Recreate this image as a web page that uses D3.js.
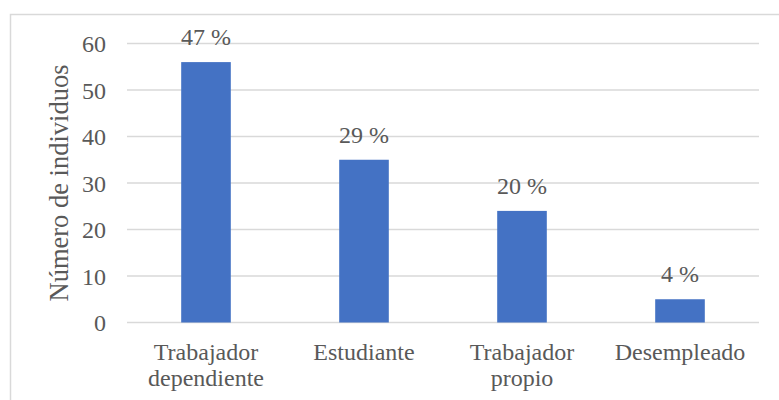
<!DOCTYPE html>
<html lang="es">
<head>
<meta charset="UTF-8">
<title>Número de individuos</title>
<script src="https://cdn.jsdelivr.net/npm/d3@7"></script>
<style>
  body { margin: 0; background: #fff; }
</style>
</head>
<body>
<script>
// data
const categories = [["Trabajador", "dependiente"], ["Estudiante"], ["Trabajador", "propio"], ["Desempleado"]];
const counts = [56, 35, 24, 5];
const percentLabels = ["47 %", "29 %", "20 %", "4 %"];
const yTicks = [0, 10, 20, 30, 40, 50, 60];

const width = 779, height = 400;
const plot = { left: 127, right: 759, top: 43.5, bottom: 322.5 };
const fontFamily = "'Liberation Serif', 'Times New Roman', Times, serif";
const textColor = "#595959";

const svg = d3.select("body").append("svg")
    .attr("width", width)
    .attr("height", height)
    .attr("font-family", fontFamily);

// outer chart frame
svg.append("rect")
    .attr("x", 10.5).attr("y", 14.5)
    .attr("width", 780).attr("height", 400)
    .attr("fill", "none")
    .attr("stroke", "#d9d9d9")
    .attr("stroke-width", 1.5);

const x = d3.scaleBand()
    .domain(d3.range(categories.length))
    .range([plot.left, plot.right])
    .paddingInner(0.686)
    .paddingOuter(0.343);

const y = d3.scaleLinear()
    .domain([0, 60])
    .range([plot.bottom, plot.top]);

// gridlines
svg.append("g")
    .selectAll("line")
    .data(yTicks)
    .enter()
    .append("line")
    .attr("x1", plot.left).attr("x2", plot.right)
    .attr("y1", d => y(d)).attr("y2", d => y(d))
    .attr("stroke", "#d9d9d9")
    .attr("stroke-width", 1.5);

// y tick labels
svg.append("g")
    .selectAll("text")
    .data(yTicks)
    .enter()
    .append("text")
    .attr("x", 106)
    .attr("y", d => y(d) + 8.5)
    .attr("text-anchor", "end")
    .attr("font-family", fontFamily)
    .attr("font-size", 24)
    .attr("fill", textColor)
    .text(d => d);

// bars
svg.append("g")
    .selectAll("rect")
    .data(counts)
    .enter()
    .append("rect")
    .attr("x", (d, i) => x(i))
    .attr("y", d => y(d))
    .attr("width", x.bandwidth())
    .attr("height", d => y(0) - y(d))
    .attr("fill", "#4472c4");

// percent labels
svg.append("g")
    .selectAll("text")
    .data(counts)
    .enter()
    .append("text")
    .attr("x", (d, i) => x(i) + x.bandwidth() / 2)
    .attr("y", d => y(d) - 17)
    .attr("text-anchor", "middle")
    .attr("font-family", fontFamily)
    .attr("font-size", 24)
    .attr("fill", textColor)
    .text((d, i) => percentLabels[i]);

// category labels (may wrap onto two lines)
const catLabels = svg.append("g")
    .selectAll("text")
    .data(categories)
    .enter()
    .append("text")
    .attr("text-anchor", "middle")
    .attr("font-family", fontFamily)
    .attr("font-size", 24)
    .attr("fill", textColor);

catLabels.selectAll("tspan")
    .data((d, i) => d.map(line => ({ line, i })))
    .enter()
    .append("tspan")
    .attr("x", d => x(d.i) + x.bandwidth() / 2)
    .attr("y", (d, j) => 359.5 + j * 26.5)
    .text(d => d.line);

// y axis title
svg.append("text")
    .attr("transform", `translate(68, ${(plot.top + plot.bottom) / 2}) rotate(-90)`)
    .attr("text-anchor", "middle")
    .attr("font-family", fontFamily)
    .attr("font-size", 26.5)
    .attr("fill", textColor)
    .text("Número de individuos");
</script>
</body>
</html>
